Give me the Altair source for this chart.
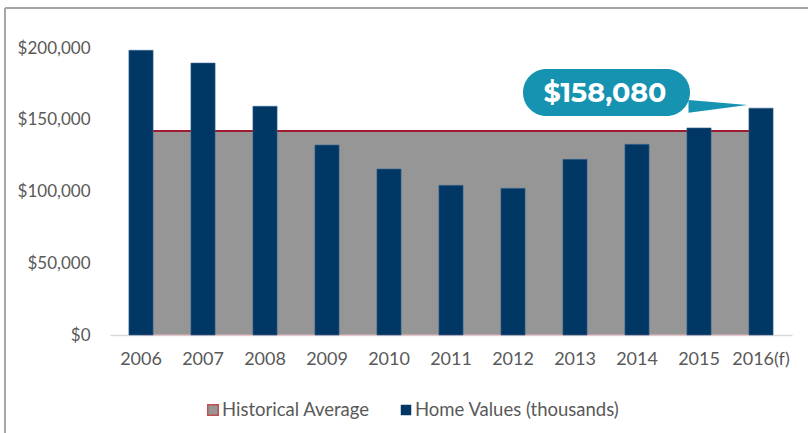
import altair as alt
import pandas as pd

years = ["2006", "2007", "2008", "2009", "2010", "2011", "2012", "2013", "2014", "2015", "2016(f)"]
home_values = [198400, 189500, 159400, 132400, 115700, 104300, 102200, 122400, 132900, 144300, 158080]
historical_average = [142200] * len(years)
callout_text = ["$158,080"]
legend_labels = ["Historical Average", "Home Values (thousands)"]

df = pd.DataFrame({"year": years, "value": home_values, "avg": historical_average})

NAVY = "#003764"
GRAY = "#969696"
RED = "#9E1B32"
PINK = "#E9B7BF"
TEAL = "#1593B1"
TXT = "#595959"
FONT = "Lato"

xscale = alt.Scale(paddingInner=0.61, paddingOuter=0.305)
yscale = alt.Scale(domain=[0, 200000], nice=False)
xaxis = alt.Axis(labelAngle=0, labelFontSize=18, labelColor=TXT, labelFont=FONT,
                 ticks=False, domainColor="#D9D9D9", domainWidth=1.5, bandPosition=0.5,
                 labelAlign="center", labelPadding=15, labelOverlap=False)
yaxis = alt.Axis(values=[0, 50000, 100000, 150000, 200000], format="$,.0f",
                 labelFontSize=17, labelColor=TXT, labelFont=FONT, grid=False,
                 ticks=False, domain=False, labelPadding=20)

base = alt.Chart(df)

area = base.mark_area(color=GRAY, opacity=1, stroke=PINK, strokeWidth=1,
                      line={"color": RED, "strokeWidth": 2}).encode(
    x=alt.X("year:N", sort=years, bandPosition=0.5, scale=xscale, axis=xaxis, title=None),
    y=alt.Y("avg:Q", scale=yscale, axis=yaxis, title=None),
)

bars = base.mark_bar(color=NAVY, stroke="#3D6A92", strokeWidth=0.6).encode(
    x=alt.X("year:N", sort=years, title=None, scale=xscale, axis=xaxis),
    y=alt.Y("value:Q", scale=yscale, title=None, axis=yaxis),
)

deco = alt.Chart(pd.DataFrame({"t": callout_text}))

bubble = deco.mark_rect(color=TEAL, cornerRadius=23.5).encode(
    x=alt.value(413), x2=alt.value(580), y=alt.value(21), y2=alt.value(68))
tail = deco.mark_point(shape="M -1 -0.2 L 1 -0.03 L -1 0.23 Z", filled=True, opacity=1,
                       color=TEAL, size=3481).encode(
    x=alt.value(608), y=alt.value(58))
label = deco.mark_text(color="white", font="Montserrat, Open Sans", fontWeight="bold",
                       fontSize=27, align="center", baseline="middle").encode(
    x=alt.value(495), y=alt.value(46), text="t:N")

frame_top = deco.mark_rule(color="#A6A6A6", strokeWidth=2).encode(
    x=alt.value(-105), x2=alt.value(720), y=alt.value(-40))
frame_left = deco.mark_rule(color="#A6A6A6", strokeWidth=2).encode(
    x=alt.value(-105), y=alt.value(-40), y2=alt.value(400))

leg_df = pd.DataFrame({"lab": legend_labels})
leg1_sym = alt.Chart(leg_df.iloc[[0]]).mark_square(size=110, fill=GRAY, stroke="#C0504D",
                                                   strokeWidth=1.5, opacity=1).encode(
    x=alt.value(103), y=alt.value(362))
leg1_txt = alt.Chart(leg_df.iloc[[0]]).mark_text(align="left", baseline="middle", fontSize=18.5,
                                                 color=TXT, font=FONT).encode(
    x=alt.value(112), y=alt.value(362), text="lab:N")
leg2_sym = alt.Chart(leg_df.iloc[[1]]).mark_square(size=110, fill=NAVY, opacity=1).encode(
    x=alt.value(296), y=alt.value(362))
leg2_txt = alt.Chart(leg_df.iloc[[1]]).mark_text(align="left", baseline="middle", fontSize=18.5,
                                                 color=TXT, font=FONT).encode(
    x=alt.value(305), y=alt.value(362), text="lab:N")

chart = alt.layer(area, bars, bubble, tail, label, frame_top, frame_left,
                  leg1_sym, leg1_txt, leg2_sym, leg2_txt).properties(
    width=682, height=287,
    autosize=alt.AutoSizeParams(type="none"),
    padding={"left": 110, "top": 48, "right": 16, "bottom": 98},
).configure(background="white").configure_view(stroke=None)

chart.save("out.html", embed_options={"renderer": "svg", "actions": False})
